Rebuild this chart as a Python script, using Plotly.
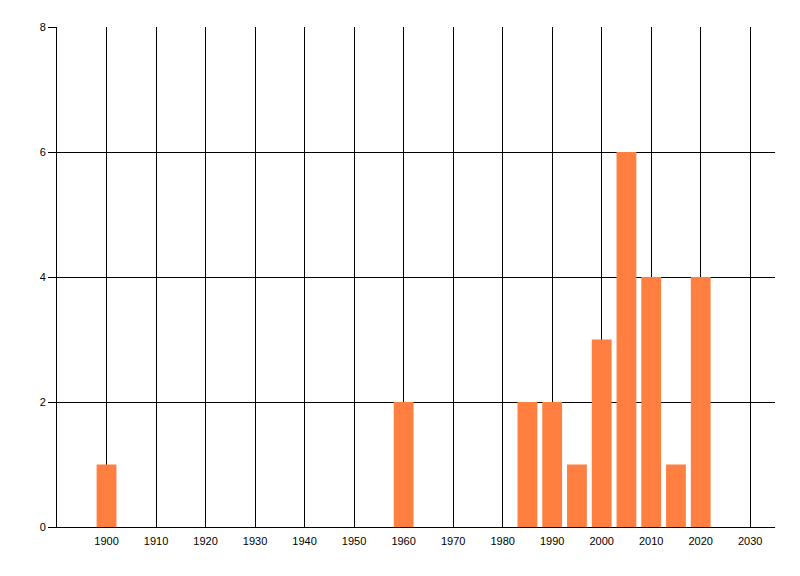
import plotly.graph_objects as go

years = [1900, 1960, 1985, 1990, 1995, 2000, 2005, 2010, 2015, 2020]
counts = [1, 2, 2, 2, 1, 3, 6, 4, 1, 4]

x_ticks = list(range(1900, 2031, 10))
y_ticks = [0, 2, 4, 6, 8]

BAR_COLOR = "#FF7F40"

fig = go.Figure(
    go.Bar(x=years, y=counts, width=4, marker=dict(color=BAR_COLOR, line=dict(width=0)))
)

# the page body has an 8px default margin, so the figure is a bit smaller
fig.update_layout(
    width=792,
    height=568,
    margin=dict(l=49, r=25, t=19, b=49),
    plot_bgcolor="white",
    paper_bgcolor="white",
    showlegend=False,
    font=dict(family="Liberation Sans, Arial, sans-serif", size=11, color="black"),
)

fig.update_xaxes(
    range=[1890, 2035],
    tickvals=x_ticks,
    ticktext=[str(t) for t in x_ticks],
    showgrid=True,
    gridcolor="black",
    gridwidth=1,
    showline=True,
    linecolor="black",
    linewidth=1,
    ticks="",
    ticklabelstandoff=4,
    zeroline=False,
    automargin=False,
)

fig.update_yaxes(
    range=[0, 8],
    tickvals=y_ticks,
    showgrid=True,
    gridcolor="black",
    gridwidth=1,
    showline=True,
    linecolor="black",
    linewidth=1,
    ticks="outside",
    ticklen=8,
    tickcolor="black",
    zeroline=False,
    automargin=False,
)

fig.write_html("out.html")
